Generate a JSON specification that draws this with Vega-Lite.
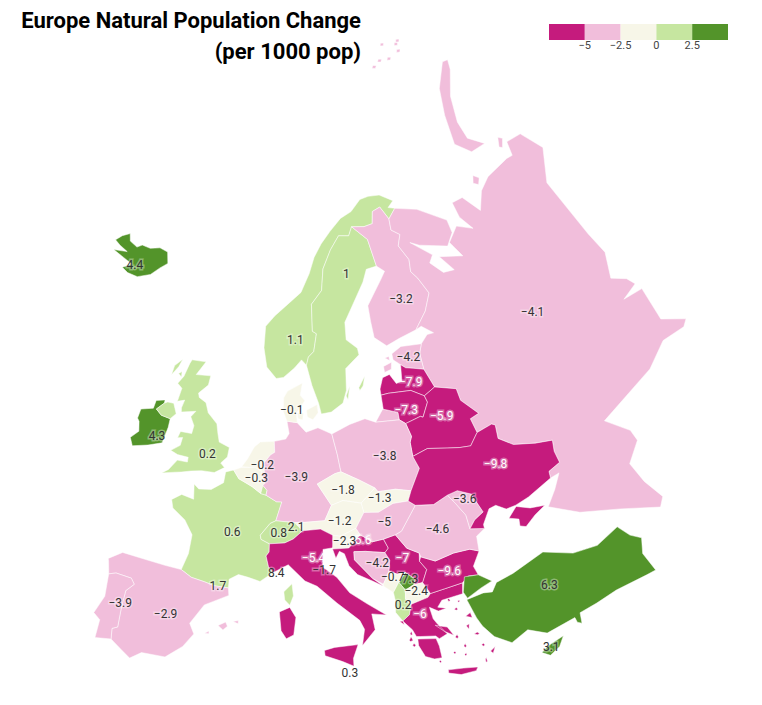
{"$schema":"https://vega.github.io/schema/vega-lite/v6.json","width":762,"height":705,"padding":0,"autosize":"none","background":"white","view":{"stroke":null},
"title":{"text":["Europe Natural Population Change","(per 1000 pop)"],"anchor":"start","align":"right","frame":"group","dx":361,"dy":64,"offset":0,"font":"Roboto","fontSize":22,"fontWeight":"bold","color":"#000","lineHeight":31},
"projection":{"type":"orthographic","rotate":[-10,-52,0],"scale":785,"translate":[298,461]},
"config":{"font":"Roboto","legend":{"gradientLength":179,"gradientHorizontalMaxLength":179,"gradientHorizontalMinLength":179}},
"layer":[
{"data":{"values":[
{"name":"Iceland","value":4.4,"type":"Feature","geometry":{"type":"Polygon","coordinates":[[[-22.3,64.9],[-23.5,65.1],[-22.8,65.6],[-21.7,66],[-21,65.5],[-19.4,65.3],[-18.7,65.6],[-17.1,65.6],[-15.5,65.9],[-13.9,65.8],[-13.1,65],[-14.1,64.5],[-15.2,63.8],[-17.1,63.3],[-18.9,63.3],[-20.1,63.5],[-18.9,64],[-20.7,64.2],[-22.9,64.4],[-20.6,64.7],[-22.3,64.9]]]}},
{"name":"Ireland","value":4.3,"type":"Feature","geometry":{"type":"Polygon","coordinates":[[[-10,54.2],[-8.5,54.5],[-8.4,55.1],[-7.3,55.3],[-7.3,55.05],[-8.1,54.5],[-7.3,54.15],[-6.1,54.05],[-6.1,53.4],[-6.4,52.2],[-8,51.8],[-9.8,51.45],[-10.3,52],[-9.5,52.6],[-9.8,53.3],[-10.1,53.5],[-10,54.2]]]}},
{"name":"United Kingdom","value":0.2,"type":"Feature","geometry":{"type":"MultiPolygon","coordinates":[[[[-8.1,54.5],[-7.3,55.05],[-6.9,55.2],[-6.1,55.2],[-5.5,54.5],[-6.1,54.05],[-7.3,54.15],[-8.1,54.5]]],[[[-5.7,50.05],[-5,50.4],[-4.2,51.2],[-3,51.2],[-3,51.55],[-4.3,51.6],[-5.2,51.8],[-4.2,52.3],[-4.1,52.9],[-4.7,52.8],[-4.5,53.3],[-3.1,53.3],[-3,53.9],[-3.6,54.5],[-3.1,54.95],[-4.9,54.7],[-5,55],[-4.8,55.6],[-5.7,55.4],[-5.5,56.4],[-6.2,56.7],[-5.6,57.3],[-5.2,58.3],[-5,58.6],[-3,58.65],[-4,57.6],[-2,57.7],[-2.1,57],[-3.2,56.3],[-3,56],[-2,55.7],[-1.5,55],[-0.2,54.3],[0.1,53.6],[0.4,53],[1.7,52.7],[1.6,52],[0.9,51.5],[1.4,51.2],[0.3,50.75],[-1.2,50.75],[-2.4,50.6],[-3.5,50.4],[-4.2,50.3],[-5.7,50.05]]],[[[-7.2,57.9],[-6.3,58.5],[-6.6,57.9],[-7.3,57.2],[-7.2,57.9]]],[[[-6.4,57.4],[-6,57.6],[-5.9,57.2],[-6.4,57.4]]]]}},
{"name":"France","value":0.6,"type":"Feature","geometry":{"type":"MultiPolygon","coordinates":[[[[-4,48.3],[-3,48.8],[-1.6,48.6],[-1.8,49.7],[-1.2,49.4],[0.2,49.5],[1.5,50.1],[1.6,50.9],[2.5,51.1],[3.2,50.5],[4.2,50.2],[4.8,50],[5.8,49.55],[6.4,49.45],[7.6,49],[8.2,49],[7.6,47.6],[7,47.4],[6,46.5],[6.1,46.2],[7,45.9],[7,45.3],[6.7,45],[7,44.2],[7.5,43.8],[6.2,43.1],[5,43.35],[4,43.5],[3.1,43.1],[3.1,42.45],[1.7,42.5],[0.7,42.7],[-0.7,42.9],[-1.8,43.35],[-1.3,44.6],[-1.2,46],[-2.2,47],[-3.7,47.7],[-4,48.3]]],[[[8.6,42.4],[9.4,43],[9.55,42.1],[9.2,41.4],[8.7,41.8],[8.6,42.4]]]]}},
{"name":"Spain","value":-2.9,"type":"Feature","geometry":{"type":"MultiPolygon","coordinates":[[[[-9.3,43],[-8,43.7],[-5.8,43.6],[-3.5,43.45],[-1.8,43.35],[-0.7,42.9],[0.7,42.7],[1.7,42.5],[3.1,42.45],[3.2,41.9],[0.9,41],[-0.3,39.5],[0.2,38.75],[-0.7,37.7],[-1.9,36.9],[-2.2,36.7],[-4.4,36.7],[-5.4,36.1],[-6.3,36.6],[-7.4,37.2],[-7.5,38],[-7,38.2],[-7,39.7],[-6.9,41],[-6.2,41.6],[-6.6,42],[-8.2,42.1],[-8.9,41.9],[-9.2,42.8],[-9.3,43]]],[[[2.4,39.6],[3.1,39.9],[3.3,39.6],[2.9,39.3],[2.4,39.6]]],[[[1.2,38.9],[1.6,39.1],[1.6,38.9],[1.2,38.9]]],[[[3.8,40],[4.3,40.1],[4.3,39.85],[3.8,40]]]]}},
{"name":"Portugal","value":-3.9,"type":"Feature","geometry":{"type":"Polygon","coordinates":[[[-8.9,41.9],[-8.2,42.1],[-6.6,42],[-6.2,41.6],[-6.9,41],[-7,39.7],[-7,38.2],[-7.5,38],[-7.4,37.2],[-8.9,37],[-8.8,38.4],[-9.5,38.8],[-8.8,40.2],[-8.9,41.9]]]}},
{"name":"Belgium","value":-0.3,"type":"Feature","geometry":{"type":"Polygon","coordinates":[[[2.5,51.1],[3.4,51.35],[4.3,51.4],[5,51.45],[5.8,51.15],[6,50.7],[6.2,50.3],[5.8,49.55],[4.8,50],[4.2,50.2],[3.2,50.5],[2.5,51.1]]]}},
{"name":"Netherlands","value":-0.2,"type":"Feature","geometry":{"type":"Polygon","coordinates":[[[3.4,51.4],[4,52],[4.7,52.9],[5.4,53.3],[7.1,53.4],[7.2,52.6],[6.7,52.4],[6,51.8],[6.1,51],[5.8,51.15],[5,51.45],[4.3,51.4],[3.4,51.4]]]}},
{"name":"Luxembourg","value":0.8,"type":"Feature","geometry":{"type":"Polygon","coordinates":[[[5.8,49.55],[6,50.15],[6.5,49.8],[6.4,49.45],[5.8,49.55]]]}},
{"name":"Germany","value":-3.9,"type":"Feature","geometry":{"type":"Polygon","coordinates":[[[7.1,53.4],[8.5,53.6],[8.9,54],[8.6,54.9],[9.9,54.8],[11,54.1],[12.5,54.4],[14.2,53.9],[14.4,53.3],[14.7,52.4],[15,51.1],[14.3,51],[12.2,50.3],[13.7,48.7],[12.9,47.6],[10.5,47.5],[9.6,47.5],[7.6,47.6],[8.2,49],[7.6,49],[6.4,49.45],[6.5,49.8],[6,50.15],[6.2,50.3],[6,50.7],[5.8,51.15],[6.1,51],[6,51.8],[6.7,52.4],[7.2,52.6],[7.1,53.4]]]}},
{"name":"Denmark","value":-0.1,"type":"Feature","geometry":{"type":"MultiPolygon","coordinates":[[[[8.6,54.9],[8.1,55.6],[8.1,56.6],[8.6,57.1],[10.6,57.7],[10.3,56.8],[10.9,56.4],[9.8,55.5],[9.9,54.8],[8.6,54.9]]],[[[11.1,55.7],[12.5,56.1],[12.6,55.5],[11.9,55],[11.2,55.2],[11.1,55.7]]],[[[9.9,55.5],[10.7,55.5],[10.6,55],[10,55.1],[9.9,55.5]]]]}},
{"name":"Norway","value":1.1,"type":"Feature","geometry":{"type":"Polygon","coordinates":[[[7,58],[5.6,58.8],[5,60.2],[5,61.8],[6.3,62.6],[8.3,63.5],[10.5,64.4],[12,65.8],[13,67],[14.5,68],[16.5,68.9],[19,69.8],[21.5,70.2],[24,71],[26,71.1],[28.5,71],[31,70.3],[29.5,69.9],[30.8,69.7],[28.9,69.05],[27.8,70.1],[26,69.9],[25.3,69],[23.5,68.9],[21,69.05],[20.1,68.4],[18.1,68.5],[16.2,67.5],[14.5,66.1],[14,64.5],[12.2,63.5],[12.2,61.5],[12.8,61.3],[12.3,60],[11.5,59.6],[11.2,59],[10.5,59.4],[9.5,58.8],[8,58.1],[7,58]]]}},
{"name":"Sweden","value":1,"type":"Feature","geometry":{"type":"MultiPolygon","coordinates":[[[[11.2,59],[11.5,59.6],[12.3,60],[12.8,61.3],[12.2,61.5],[12.2,63.5],[14,64.5],[14.5,66.1],[16.2,67.5],[18.1,68.5],[20.1,68.4],[21,69.05],[23.6,67.9],[24.1,65.8],[22.2,65.7],[21.2,64.8],[19,63.3],[17.3,62],[17.2,60.7],[18.7,60],[18.8,59.5],[16.7,58.6],[16.5,57],[15.9,56.1],[14.3,55.5],[13,55.4],[12.7,56.2],[11.9,57.5],[11.2,59]]],[[[18.2,57.1],[19.2,57.9],[18.8,57.2],[18.3,56.9],[18.2,57.1]]],[[[16.4,56.6],[17,57.3],[16.6,56.3],[16.4,56.6]]]]}},
{"name":"Finland","value":-3.2,"type":"Feature","geometry":{"type":"Polygon","coordinates":[[[21,69.05],[23.5,68.9],[25.3,69],[26,69.9],[27.8,70.1],[28.9,69.05],[28.6,68.2],[30,67.7],[29,66.9],[30.1,65.7],[29.7,64.8],[30.5,64.2],[31.5,62.9],[30,61.7],[27.8,60.55],[25,60.2],[23,59.85],[21.4,60.6],[21.3,61.8],[21.3,63],[24.4,64.8],[25.3,65.3],[24.1,65.8],[23.6,67.9],[21,69.05]]]}},
{"name":"Russia","value":-4.1,"type":"Feature","geometry":{"type":"MultiPolygon","coordinates":[[[[30.8,69.7],[35.1,69.1],[39.7,67.5],[39.5,66.5],[37.6,65.7],[32.8,66.5],[31.3,66.9],[34.4,65.5],[33.4,65],[35,64],[36.9,63.9],[35.4,65.2],[39.3,64.6],[38.2,65.9],[40.8,66.8],[43.4,66.1],[42.2,67.3],[42.4,68.5],[44.8,68.5],[46.5,67],[49,68.2],[52,68.8],[57.9,69],[59.3,68.9],[60.7,69.9],[64.3,69.6],[65.3,67.7],[60.4,65.7],[59.5,60.9],[59.6,59.1],[57.7,57.4],[59.5,56.6],[60,55.9],[57.3,55.6],[60.3,55.3],[59.7,52.7],[62.4,51.4],[61.5,51.1],[58.2,51.4],[54.7,50.4],[46.6,49.1],[48.8,47.5],[49,46.6],[47,45.4],[47.6,43.7],[48.7,42],[48,41.4],[44,42.8],[39.9,43.9],[36.9,45.2],[38.2,46.2],[39.3,47.2],[38.2,47.1],[38.3,47.6],[39.8,47.9],[39.7,48.8],[40,49.6],[38,49.9],[35.5,50.4],[34,51.2],[34.2,52.2],[33.8,52.35],[31.8,52.1],[31.5,53.2],[32.7,53.4],[31,54.7],[30.9,55.6],[28.2,56.15],[27.4,57.6],[27.4,58.8],[28,59.45],[29.2,60],[30.2,60],[28.7,60.7],[27.8,60.55],[30,61.7],[31.5,62.9],[30.5,64.2],[29.7,64.8],[30.1,65.7],[29,66.9],[30,67.7],[28.6,68.2],[28.9,69.05],[30.8,69.7]]],[[[19.8,54.45],[20.9,55.3],[21.3,55.25],[22.8,54.9],[22.8,54.35],[19.8,54.45]]],[[[50.7,72.2],[54,74.4],[59,76.2],[67.5,77.4],[69.3,77.2],[66.8,76.6],[59.5,75.2],[55.3,73.4],[54.3,72],[56.6,70.9],[52.8,71],[50.7,72.2]]],[[[48.5,69],[49.5,69.5],[50.3,69.1],[49.3,68.7],[48.5,69]]],[[[58.5,70],[60,70.6],[60.6,70.3],[59,69.8],[58.5,70]]],[[[55.8,81.6],[57,81.75],[58.2,81.6],[57,81.45],[55.8,81.6]]],[[[62.8,81],[64,81.15],[65.2,81],[64,80.85],[62.8,81]]],[[[44.8,80.5],[46,80.65],[47.2,80.5],[46,80.35],[44.8,80.5]]],[[[52.8,80.4],[54,80.55],[55.2,80.4],[54,80.25],[52.8,80.4]]],[[[48.8,80.7],[50,80.85],[51.2,80.7],[50,80.55],[48.8,80.7]]],[[[58.8,80.4],[60,80.55],[61.2,80.4],[60,80.25],[58.8,80.4]]],[[[60.8,80.9],[62,81.05],[63.2,80.9],[62,80.75],[60.8,80.9]]]]}},
{"name":"Estonia","value":-4.2,"type":"Feature","geometry":{"type":"MultiPolygon","coordinates":[[[[23.5,59.2],[25,59.6],[28,59.45],[27.4,58.8],[27.4,57.6],[26,57.85],[25,58],[24.4,58.3],[23.5,58.75],[23.5,59.2]]],[[[22,58.4],[23.2,58.6],[23,58.1],[22,57.95],[22,58.4]]],[[[22.4,59],[23,59.05],[23,58.75],[22.4,59]]]]}},
{"name":"Latvia","value":-7.9,"type":"Feature","geometry":{"type":"Polygon","coordinates":[[[21,56.8],[21.6,57.6],[22.6,57.75],[23.3,57],[24.1,57.1],[24.4,58.3],[25,58],[26,57.85],[27.4,57.6],[28.2,56.15],[26.6,55.7],[25,56.3],[22,56.4],[21,56.35],[21,56.8]]]}},
{"name":"Lithuania","value":-7.3,"type":"Feature","geometry":{"type":"Polygon","coordinates":[[[21,55.3],[21,56.35],[22,56.4],[25,56.3],[26.6,55.7],[26.8,55.2],[25.8,54.2],[25.5,54.3],[23.5,54],[22.8,54.35],[22.8,54.9],[21.3,55.25],[21,55.3]]]}},
{"name":"Belarus","value":-5.9,"type":"Feature","geometry":{"type":"Polygon","coordinates":[[[23.5,54],[25.5,54.3],[25.8,54.2],[26.8,55.2],[26.6,55.7],[28.2,56.15],[30.9,55.6],[31,54.7],[32.7,53.4],[31.5,53.2],[31.8,52.1],[30.6,51.3],[29.3,51.4],[27.8,51.6],[25.5,51.9],[23.6,51.55],[23.6,52.6],[23.9,53],[23.5,54]]]}},
{"name":"Poland","value":-3.8,"type":"Feature","geometry":{"type":"Polygon","coordinates":[[[14.2,53.9],[16.5,54.5],[18.5,54.8],[19.8,54.45],[22.8,54.35],[23.5,54],[23.9,53],[23.6,52.6],[23.6,51.55],[24.1,50.6],[22.7,49.1],[21,49.4],[19,49.4],[18.7,49.7],[17,50.4],[15,51.1],[14.7,52.4],[14.4,53.3],[14.2,53.9]]]}},
{"name":"Czechia","value":-1.8,"type":"Feature","geometry":{"type":"Polygon","coordinates":[[[12.2,50.3],[14.3,51],[15,51.1],[17,50.4],[18.7,49.7],[17,48.7],[15,49],[13.7,48.7],[12.2,50.3]]]}},
{"name":"Slovakia","value":-1.3,"type":"Feature","geometry":{"type":"Polygon","coordinates":[[[17,48.7],[18.7,49.7],[19,49.4],[21,49.4],[22.7,49.1],[22.2,48.4],[20.5,48.4],[18.8,47.9],[17.2,48],[17,48.7]]]}},
{"name":"Austria","value":-1.2,"type":"Feature","geometry":{"type":"Polygon","coordinates":[[[9.6,47.5],[10.5,47.5],[12.9,47.6],[13.7,48.7],[15,49],[17,48.7],[17.2,48],[16.2,46.9],[14.5,46.4],[13.7,46.5],[12.4,47],[10.5,46.9],[9.6,47.5]]]}},
{"name":"Switzerland","value":2.1,"type":"Feature","geometry":{"type":"Polygon","coordinates":[[[6.1,46.2],[6,46.5],[7,47.4],[7.6,47.6],[9.6,47.5],[10.5,46.9],[9.5,46.3],[8.6,46],[7,45.9],[6.1,46.2]]]}},
{"name":"Italy","value":-5.4,"type":"Feature","geometry":{"type":"MultiPolygon","coordinates":[[[[6.7,45],[7,45.3],[7,45.9],[8.6,46],[9.5,46.3],[10.5,46.9],[12.4,47],[13.7,46.5],[13.8,45.6],[12.6,45.5],[12.6,45],[12.5,44.2],[13.9,43.4],[15.1,42.2],[16.7,41.3],[18.5,40.3],[17.1,40.5],[17.3,39.3],[16,38.2],[16.3,39.4],[15.9,40.1],[13.8,41.5],[11.9,42.8],[10.7,43.2],[9,44.4],[7.5,43.8],[7,44.2],[6.7,45]]],[[[12.45,38],[13.4,38.2],[15.6,38.3],[15.1,37.3],[15.1,36.7],[14.1,37.1],[12.5,37.6],[12.45,38]]],[[[8.2,40.9],[9.2,41.25],[9.8,40.5],[9.6,39.2],[8.9,38.9],[8.4,39.5],[8.2,40.9]]]]}},
{"name":"Slovenia","value":-2.3,"type":"Feature","geometry":{"type":"Polygon","coordinates":[[[13.6,45.5],[13.7,46.5],[14.5,46.4],[16.2,46.9],[16.6,46.4],[15.3,45.5],[14,45.5],[13.6,45.5]]]}},
{"name":"Croatia","value":-5.6,"type":"Feature","geometry":{"type":"Polygon","coordinates":[[[13.6,45.5],[14,45.5],[15.3,45.5],[16.6,46.4],[17.8,45.8],[19,45.9],[19.4,45.2],[19,44.9],[17,45.15],[15.8,45.2],[15.8,44.6],[17.5,43.1],[18.5,42.45],[17.5,42.9],[16,43.5],[15.2,44.2],[14.8,45.1],[14.3,45.3],[13.9,44.8],[13.6,45.5]]]}},
{"name":"Bosnia and Herzegovina","value":-4.2,"type":"Feature","geometry":{"type":"Polygon","coordinates":[[[15.8,45.2],[17,45.15],[19,44.9],[19.4,44.3],[19.2,43.5],[18.5,42.6],[17.5,43.1],[15.8,44.6],[15.8,45.2]]]}},
{"name":"Serbia","value":-7,"type":"Feature","geometry":{"type":"Polygon","coordinates":[[[19,45.9],[20.3,46.1],[21.3,45],[22.5,44.5],[22.4,43.9],[23,43.2],[22.4,42.3],[21.5,42.25],[21.7,42.65],[20.8,43.25],[20,43.2],[19.2,43.5],[19.4,44.3],[19,44.9],[19.4,45.2],[19,45.9]]]}},
{"name":"Kosovo","value":7.3,"type":"Feature","geometry":{"type":"Polygon","coordinates":[[[20.05,42.6],[20.8,43.25],[21.7,42.65],[21.5,42.25],[20.6,41.95],[20.05,42.6]]]}},
{"name":"Montenegro","value":-0.7,"type":"Feature","geometry":{"type":"Polygon","coordinates":[[[18.5,42.6],[19.2,43.5],[20,43.2],[20.8,43.25],[20.05,42.6],[19.4,41.9],[18.5,42.45],[18.5,42.6]]]}},
{"name":"Albania","value":0.2,"type":"Feature","geometry":{"type":"Polygon","coordinates":[[[19.4,41.9],[20.05,42.6],[20.6,41.95],[20.5,41.3],[21,40.7],[20.7,40.1],[20,39.7],[19.4,40.4],[19.5,41.3],[19.4,41.9]]]}},
{"name":"North Macedonia","value":-2.4,"type":"Feature","geometry":{"type":"Polygon","coordinates":[[[20.6,41.95],[21.5,42.25],[22.4,42.3],[23,41.4],[22.7,41.15],[21,40.85],[20.5,41.3],[20.6,41.95]]]}},
{"name":"Greece","value":-6,"type":"Feature","geometry":{"type":"MultiPolygon","coordinates":[[[[20,39.7],[20.7,40.1],[21,40.85],[22.7,41.15],[23,41.4],[24.5,41.55],[26.3,41.7],[26.1,40.9],[24,40.75],[23.5,40.3],[24.3,40.1],[23.5,40],[22.7,40.4],[22.9,39.5],[23.2,39.1],[24,38.2],[23.2,37.95],[22.9,38.2],[21.5,38.35],[21.1,38.4],[20.8,38.95],[20.2,39.5],[20,39.7]]],[[[21.2,38.2],[22.9,38],[23.1,37.4],[23.2,36.5],[22.5,36.5],[21.7,36.8],[21.2,37.7],[21.2,38.2]]],[[[23.6,35.5],[25,35.4],[26.3,35.25],[26.1,35],[24.7,34.95],[23.6,35.25],[23.6,35.5]]],[[[23,39],[24.1,38.7],[24.6,38],[23.8,38.4],[23,39]]],[[[26,39.2],[26.5,39.4],[26.6,39],[26,39.2]]],[[[25.9,38.5],[26.2,38.6],[26.1,38.2],[25.9,38.5]]],[[[27.7,36.2],[28.2,36.45],[27.9,36],[27.7,36.2]]],[[[19.7,39.7],[20,39.7],[20.1,39.4],[19.7,39.7]]],[[[26.5,37.75],[26.8,37.85],[27,37.7],[26.8,37.65],[26.5,37.75]]],[[[25.35,37.05],[25.5,37.2],[25.6,37],[25.45,36.9],[25.35,37.05]]],[[[24.7,37.85],[24.9,38],[25,37.8],[24.85,37.7],[24.7,37.85]]],[[[27,36.85],[27.2,36.9],[27.3,36.75],[27.1,36.7],[27,36.85]]],[[[27.1,35.7],[27.2,35.8],[27.25,35.5],[27.1,35.45],[27.1,35.7]]],[[[25.3,36.4],[25.45,36.5],[25.5,36.35],[25.35,36.3],[25.3,36.4]]],[[[24.3,36.7],[24.45,36.8],[24.55,36.65],[24.4,36.6],[24.3,36.7]]],[[[25.05,39.9],[25.25,40],[25.4,39.85],[25.2,39.8],[25.05,39.9]]],[[[24.55,40.7],[24.7,40.8],[24.8,40.6],[24.65,40.55],[24.55,40.7]]],[[[25.5,40.45],[25.65,40.5],[25.7,40.4],[25.55,40.35],[25.5,40.45]]],[[[20.4,38.2],[20.6,38.45],[20.75,38.15],[20.5,38.1],[20.4,38.2]]],[[[20.65,37.8],[20.8,37.9],[20.95,37.75],[20.8,37.65],[20.65,37.8]]],[[[20.55,38.7],[20.7,38.85],[20.75,38.6],[20.6,38.55],[20.55,38.7]]],[[[22.9,36.25],[23,36.35],[23.1,36.2],[23,36.12],[22.9,36.25]]]]}},
{"name":"Bulgaria","value":-9.6,"type":"Feature","geometry":{"type":"Polygon","coordinates":[[[22.4,43.9],[22.6,44.2],[24,43.7],[26,44],[27.7,44],[28.6,43.7],[27.7,42.7],[28,42],[27,42.1],[26.3,41.7],[24.5,41.55],[23,41.4],[22.4,42.3],[23,43.2],[22.4,43.9]]]}},
{"name":"Romania","value":-4.6,"type":"Feature","geometry":{"type":"Polygon","coordinates":[[[20.3,46.1],[21,46.3],[22.9,48],[24.9,47.8],[26.6,48.25],[27.3,47.5],[28.1,46.5],[28.2,45.45],[29.7,45.2],[28.7,44.8],[28.6,43.7],[27.7,44],[26,44],[24,43.7],[22.6,44.2],[22.5,44.5],[21.3,45],[20.3,46.1]]]}},
{"name":"Hungary","value":-5,"type":"Feature","geometry":{"type":"Polygon","coordinates":[[[16.2,46.9],[17.2,48],[18.8,47.9],[20.5,48.4],[22.2,48.4],[22.9,48],[21,46.3],[20.3,46.1],[19,45.9],[17.8,45.8],[16.6,46.4],[16.2,46.9]]]}},
{"name":"Moldova","value":-3.6,"type":"Feature","geometry":{"type":"Polygon","coordinates":[[[26.6,48.25],[27.8,48.4],[29.2,47.9],[30,46.4],[28.9,46],[28.2,45.45],[28.1,46.5],[27.3,47.5],[26.6,48.25]]]}},
{"name":"Ukraine","value":-9.8,"type":"Feature","geometry":{"type":"MultiPolygon","coordinates":[[[[23.6,51.55],[25.5,51.9],[27.8,51.6],[29.3,51.4],[30.6,51.3],[31.8,52.1],[33.8,52.35],[34.2,52.2],[34,51.2],[35.5,50.4],[38,49.9],[40,49.6],[39.7,48.8],[39.8,47.9],[38.3,47.6],[38.2,47.1],[35.2,46.4],[33.6,46.15],[32.5,46.1],[31.5,46.6],[30.7,46.5],[29.7,45.5],[29.7,45.2],[28.2,45.45],[28.9,46],[30,46.4],[29.2,47.9],[27.8,48.4],[26.6,48.25],[24.9,47.8],[22.9,48],[22.2,48.4],[22.7,49.1],[24.1,50.6],[23.6,51.55]]],[[[32.5,45.4],[33.6,46.05],[35,45.6],[36.6,45.4],[35.3,45],[34,44.4],[33.4,44.6],[33.5,45.1],[32.5,45.4]]]]}},
{"name":"Turkey","value":6.3,"type":"Feature","geometry":{"type":"MultiPolygon","coordinates":[[[[26.4,40.4],[28.1,40.6],[29,40.5],[29.6,41.1],[31.4,41.4],[34.9,42.2],[37.8,41.3],[40.4,41.1],[43,41.7],[43.9,40.7],[44.9,40.1],[44.4,39],[45,37.4],[44,37.4],[40.7,37.4],[38.5,37.1],[36.7,36.9],[36.6,36.1],[36.2,36.3],[36.1,36.7],[33.2,36.3],[31.5,37],[29.8,36.4],[28.3,37.2],[27.4,38.2],[27,38.9],[26.4,40.4]]],[[[26.2,41],[26.6,42.1],[28,42],[29.2,41.3],[28,41],[26.5,40.5],[26.2,41]]]]}},
{"name":"Cyprus","value":3.1,"type":"Feature","geometry":{"type":"Polygon","coordinates":[[[32.3,35],[33,35.35],[34.6,35.7],[34,35],[33,34.6],[32.3,35]]]}}
]},
"mark":{"type":"geoshape","stroke":"#ffffff","strokeWidth":0.5},
"encoding":{"color":{"field":"value","type":"quantitative","scale":{"type":"threshold","domain":[-5,-2.5,0,2.5],"range":["#c51b7d","#f1bedb","#f7f6e8","#c6e6a0","#53942a"]},"legend":{"title":null,"orient":"none","legendX":549,"legendY":24,"direction":"horizontal","gradientThickness":14,"labelFont":"Roboto","labelFontSize":11,"labelOffset":0,"labelColor":"#444","format":"~g"}}}},
{"data":{"name":"labels","values":[
{"name":"Iceland","value":4.4,"lon":-18.3,"lat":64},{"name":"Ireland","value":4.3,"lon":-7.2,"lat":52.6},{"name":"United Kingdom","value":0.2,"lon":-0.8,"lat":52},{"name":"France","value":0.6,"lon":3,"lat":46.55},{"name":"Spain","value":-2.9,"lon":-2.7,"lat":39.9},{"name":"Portugal","value":-3.9,"lon":-7.2,"lat":40},{"name":"Andorra","value":1.7,"lon":2.05,"lat":42.5},{"name":"Monaco","value":8.4,"lon":7.8,"lat":43.75},{"name":"Switzerland","value":2.1,"lon":9.8,"lat":47.15},{"name":"Luxembourg","value":0.8,"lon":7.95,"lat":46.75},{"name":"Belgium","value":-0.3,"lon":5.2,"lat":50.65},{"name":"Netherlands","value":-0.2,"lon":5.8,"lat":51.6},{"name":"Germany","value":-3.9,"lon":9.8,"lat":50.85},{"name":"Denmark","value":-0.1,"lon":9.2,"lat":55.7},{"name":"Norway","value":1.1,"lon":9.6,"lat":60.9},{"name":"Sweden","value":1,"lon":18.6,"lat":65.6},{"name":"Finland","value":-3.2,"lon":26.8,"lat":63},{"name":"Russia","value":-4.1,"lon":45,"lat":58.6},{"name":"Estonia","value":-4.2,"lon":25.7,"lat":58.7},{"name":"Latvia","value":-7.9,"lon":25.25,"lat":56.9},{"name":"Lithuania","value":-7.3,"lon":23.9,"lat":55},{"name":"Belarus","value":-5.9,"lon":28.15,"lat":54},{"name":"Ukraine","value":-9.8,"lon":32.8,"lat":49.5},{"name":"Poland","value":-3.8,"lon":20.3,"lat":51.9},{"name":"Czechia","value":-1.8,"lon":15.1,"lat":49.75},{"name":"Slovakia","value":-1.3,"lon":19.1,"lat":48.9},{"name":"Austria","value":-1.2,"lon":14.5,"lat":47.5},{"name":"Hungary","value":-5,"lon":19.3,"lat":47.15},{"name":"Romania","value":-4.6,"lon":24.8,"lat":45.95},{"name":"Moldova","value":-3.6,"lon":28.4,"lat":47.7},{"name":"Bulgaria","value":-9.6,"lon":25.2,"lat":42.75},{"name":"Serbia","value":-7,"lon":20.7,"lat":44.3},{"name":"Bosnia and Herzegovina","value":-4.2,"lon":18.1,"lat":44.2},{"name":"Croatia","value":-5.6,"lon":16.5,"lat":46},{"name":"Slovenia","value":-2.3,"lon":14.9,"lat":46.05},{"name":"Italy","value":-5.4,"lon":11.6,"lat":44.9},{"name":"San Marino","value":-1.7,"lon":12.65,"lat":44},{"name":"Montenegro","value":-0.7,"lon":19.5,"lat":43.05},{"name":"Kosovo","value":7.3,"lon":21.2,"lat":42.75},{"name":"North Macedonia","value":-2.4,"lon":21.65,"lat":41.8},{"name":"Albania","value":0.2,"lon":20.2,"lat":40.9},{"name":"Greece","value":-6,"lon":21.7,"lat":40},{"name":"Turkey","value":6.3,"lon":34.6,"lat":39.7},{"name":"Cyprus","value":3.1,"lon":33.25,"lat":35.2},{"name":"Malta","value":0.3,"lon":14.7,"lat":36.2}
]},
"mark":{"type":"text","font":"Roboto","fontSize":12,"stroke":"#ffffff","strokeWidth":3,"strokeOpacity":0.35,"fill":"#ffffff","fillOpacity":0,"baseline":"middle"},
"encoding":{"longitude":{"field":"lon","type":"quantitative"},"latitude":{"field":"lat","type":"quantitative"},"text":{"field":"value","type":"quantitative","format":"~g"}}},
{"data":{"name":"labels"},
"mark":{"type":"text","font":"Roboto","fontSize":12,"baseline":"middle"},
"encoding":{"longitude":{"field":"lon","type":"quantitative"},"latitude":{"field":"lat","type":"quantitative"},"text":{"field":"value","type":"quantitative","format":"~g"},"color":{"condition":{"test":"datum.value<-5","value":"#ffffff"},"value":"#333333"},"fontWeight":{"condition":{"test":"datum.value<-5","value":"bold"},"value":"normal"}}}
]}
